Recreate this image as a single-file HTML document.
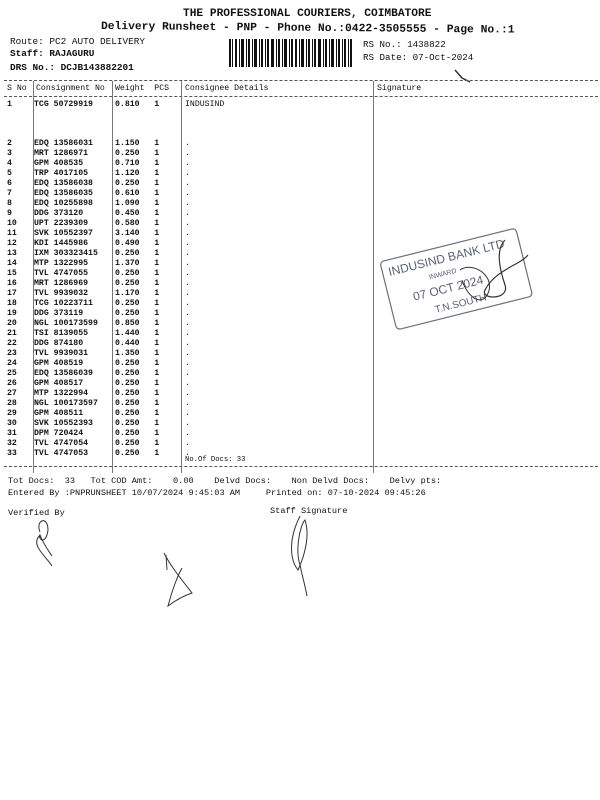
<!DOCTYPE html>
<html><head><meta charset="utf-8"><style>
html,body{margin:0;padding:0;background:#fff}
body{width:600px;height:800px;position:relative;overflow:hidden;font-family:"Liberation Mono",monospace;color:#111}
.t{position:absolute;white-space:pre;line-height:1}
.s{font-size:8.2px}
.b{font-weight:bold}
.dash{position:absolute;left:4px;width:594px;border-top:1px dashed #555;height:0}
.v{position:absolute;width:0;border-left:1px solid #777}
</style></head><body>
<div class="t b" style="left:183px;top:9px;font-size:11.2px">THE PROFESSIONAL COURIERS, COIMBATORE</div>
<div class="t b" style="left:101px;top:22px;font-size:11.3px;transform:rotate(0.5deg);transform-origin:left">Delivery Runsheet - PNP - Phone No.:0422-3505555 - Page No.:1</div>
<div class="t" style="left:10px;top:37px;font-size:9.4px">Route: PC2 AUTO DELIVERY</div>
<div class="t b" style="left:10px;top:49px;font-size:9.4px">Staff: RAJAGURU</div>
<div class="t b" style="left:10px;top:63px;font-size:9.4px">DRS No.: DCJB143882201</div>
<div class="t" style="left:363px;top:40px;font-size:9.2px">RS No.: 1438822</div>
<div class="t" style="left:363px;top:53px;font-size:9.2px">RS Date: 07-Oct-2024</div>
<svg style="position:absolute;left:0;top:0" width="600" height="800">
<g fill="#111">
<rect x="229" y="39" width="2" height="28"/><rect x="232" y="39" width="1" height="28"/><rect x="235" y="39" width="2" height="28"/><rect x="239" y="39" width="1" height="28"/><rect x="241" y="39" width="3" height="28"/><rect x="246" y="39" width="1" height="28"/><rect x="248" y="39" width="2" height="28"/><rect x="252" y="39" width="1" height="28"/><rect x="254" y="39" width="3" height="28"/><rect x="259" y="39" width="1" height="28"/><rect x="261" y="39" width="2" height="28"/><rect x="265" y="39" width="1" height="28"/><rect x="267" y="39" width="2" height="28"/><rect x="271" y="39" width="3" height="28"/><rect x="276" y="39" width="1" height="28"/><rect x="278" y="39" width="2" height="28"/><rect x="282" y="39" width="1" height="28"/><rect x="284" y="39" width="3" height="28"/><rect x="289" y="39" width="1" height="28"/><rect x="291" y="39" width="2" height="28"/><rect x="295" y="39" width="2" height="28"/><rect x="299" y="39" width="1" height="28"/><rect x="301" y="39" width="3" height="28"/><rect x="306" y="39" width="1" height="28"/><rect x="308" y="39" width="2" height="28"/><rect x="312" y="39" width="1" height="28"/><rect x="314" y="39" width="2" height="28"/><rect x="318" y="39" width="3" height="28"/><rect x="323" y="39" width="1" height="28"/><rect x="325" y="39" width="2" height="28"/><rect x="329" y="39" width="1" height="28"/><rect x="331" y="39" width="3" height="28"/><rect x="336" y="39" width="1" height="28"/><rect x="338" y="39" width="2" height="28"/><rect x="342" y="39" width="1" height="28"/><rect x="344" y="39" width="2" height="28"/><rect x="348" y="39" width="1" height="28"/><rect x="350" y="39" width="2" height="28"/>
</g>
<path d="M455 70 L462 78 L470 82" stroke="#333" stroke-width="1.5" fill="none"/>
<!-- stamp -->
<g transform="rotate(-14 456 278)" stroke="#6a6f80" fill="none" stroke-width="1.2">
<rect x="386" y="244" width="140" height="70" rx="4"/>
</g>
<g transform="rotate(-14 456 278)" fill="#5a6075" font-family="Liberation Sans,sans-serif">
<text x="392" y="260" font-size="12">INDUSIND BANK LTD</text>
<text x="430" y="273" font-size="7">INWARD</text>
<text x="410" y="290" font-size="12">07 OCT 2024</text>
<text x="428" y="307" font-size="10">T.N.SOUTH</text>
</g>
<path d="M505 240 C495 250 500 270 505 285 C510 300 480 300 485 290 C495 270 520 265 528 255" stroke="#333" fill="none" stroke-width="1.2"/>
<path d="M460 270 C475 260 500 280 485 298 C475 305 465 290 462 280" stroke="#333" fill="none" stroke-width="1"/>
<!-- bottom signatures -->
<path d="M40 532 C35 520 48 515 48 530 C46 545 38 540 40 535 C44 545 48 550 52 556 M40 535 C30 545 45 555 52 566" stroke="#333" fill="none" stroke-width="1"/>
<path d="M164 553 C170 565 178 575 192 593 C180 597 172 603 168 606 C172 590 178 575 182 568 M166 555 L167 570" stroke="#333" fill="none" stroke-width="1"/>
<path d="M300 516 C288 540 290 560 298 570 C305 555 310 535 305 520 C300 525 295 550 300 565 C302 575 305 585 307 596" stroke="#333" fill="none" stroke-width="1"/>
</svg>
<div class="dash" style="top:80px"></div>
<div class="dash" style="top:96px"></div>
<div class="dash" style="top:466px"></div>
<div class="v" style="left:33px;top:81px;height:392px"></div>
<div class="v" style="left:112px;top:81px;height:392px"></div>
<div class="v" style="left:181px;top:81px;height:392px"></div>
<div class="v" style="left:373px;top:81px;height:392px"></div>
<div class="t s" style="left:7px;top:85px">S No</div>
<div class="t s" style="left:36px;top:85px">Consignment No</div>
<div class="t s" style="left:115px;top:85px">Weight  PCS</div>
<div class="t s" style="left:185px;top:85px">Consignee Details</div>
<div class="t s" style="left:377px;top:85px">Signature</div>
<div class="t s b" style="left:7px;top:101px">1</div>
<div class="t s b" style="left:34px;top:101px">TCG 50729919</div>
<div class="t s b" style="left:115px;top:101px">0.810   1</div>
<div class="t s" style="left:185px;top:101px">INDUSIND</div>
<div class="t s b" style="left:7px;top:139px;line-height:10px">2
3
4
5
6
7
8
9
10
11
12
13
14
15
16
17
18
19
20
21
22
23
24
25
26
27
28
29
30
31
32
33</div>
<div class="t s b" style="left:34px;top:139px;line-height:10px">EDQ 13586031
MRT 1286971
GPM 408535
TRP 4017105
EDQ 13586038
EDQ 13586035
EDQ 10255898
DDG 373120
UPT 2239309
SVK 10552397
KDI 1445986
IXM 303323415
MTP 1322995
TVL 4747055
MRT 1286969
TVL 9939032
TCG 10223711
DDG 373119
NGL 100173599
TSI 8139055
DDG 874180
TVL 9939031
GPM 408519
EDQ 13586039
GPM 408517
MTP 1322994
NGL 100173597
GPM 408511
SVK 10552393
DPM 720424
TVL 4747054
TVL 4747053</div>
<div class="t s b" style="left:115px;top:139px;line-height:10px">1.150   1
0.250   1
0.710   1
1.120   1
0.250   1
0.610   1
1.090   1
0.450   1
0.580   1
3.140   1
0.490   1
0.250   1
1.370   1
0.250   1
0.250   1
1.170   1
0.250   1
0.250   1
0.850   1
1.440   1
0.440   1
1.350   1
0.250   1
0.250   1
0.250   1
0.250   1
0.250   1
0.250   1
0.250   1
0.250   1
0.250   1
0.250   1</div>
<div class="t s" style="left:185px;top:139px;line-height:10px">.
.
.
.
.
.
.
.
.
.
.
.
.
.
.
.
.
.
.
.
.
.
.
.
.
.
.
.
.
.
.
.</div>
<div class="t" style="left:185px;top:457px;font-size:7.2px">No.Of Docs: 33</div>
<div class="t" style="left:8px;top:477px;font-size:8.6px">Tot Docs:  33   Tot COD Amt:    0.00    Delvd Docs:    Non Delvd Docs:    Delvy pts:</div>
<div class="t" style="left:8px;top:489px;font-size:8.6px">Entered By :PNPRUNSHEET 10/07/2024 9:45:03 AM     Printed on: 07-10-2024 09:45:26</div>
<div class="t" style="left:8px;top:509px;font-size:8.6px">Verified By</div>
<div class="t" style="left:270px;top:507px;font-size:8.6px">Staff Signature</div>
</body></html>
